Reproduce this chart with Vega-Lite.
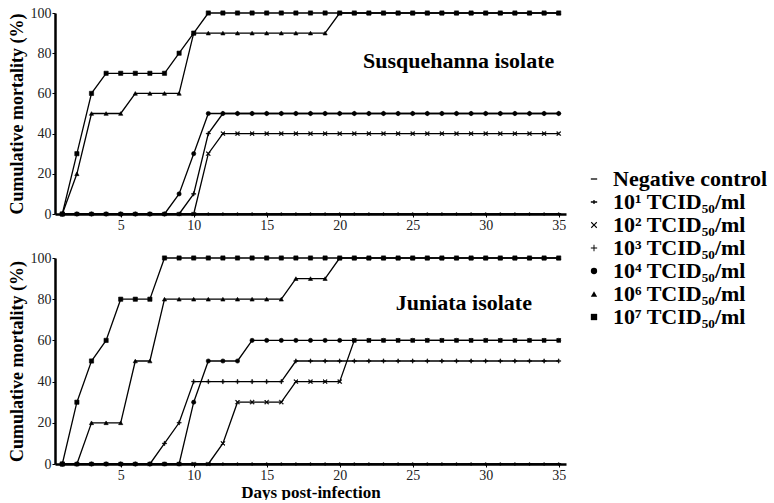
{
  "$schema": "https://vega.github.io/schema/vega-lite/v6.json",
  "background": "white",
  "padding": {"left": 8, "top": 6, "right": 0, "bottom": 0},
  "datasets": {
    "mort": [
      {"iso":"S","day":1,"neg":0,"d1":0,"d2":0,"d3":0,"d4":0,"d6":0,"d7":0},
      {"iso":"S","day":2,"neg":0,"d1":0,"d2":0,"d3":0,"d4":0,"d6":20,"d7":30},
      {"iso":"S","day":3,"neg":0,"d1":0,"d2":0,"d3":0,"d4":0,"d6":50,"d7":60},
      {"iso":"S","day":4,"neg":0,"d1":0,"d2":0,"d3":0,"d4":0,"d6":50,"d7":70},
      {"iso":"S","day":5,"neg":0,"d1":0,"d2":0,"d3":0,"d4":0,"d6":50,"d7":70},
      {"iso":"S","day":6,"neg":0,"d1":0,"d2":0,"d3":0,"d4":0,"d6":60,"d7":70},
      {"iso":"S","day":7,"neg":0,"d1":0,"d2":0,"d3":0,"d4":0,"d6":60,"d7":70},
      {"iso":"S","day":8,"neg":0,"d1":0,"d2":0,"d3":0,"d4":0,"d6":60,"d7":70},
      {"iso":"S","day":9,"neg":0,"d1":0,"d2":0,"d3":0,"d4":10,"d6":60,"d7":80},
      {"iso":"S","day":10,"neg":0,"d1":0,"d2":0,"d3":10,"d4":30,"d6":90,"d7":90},
      {"iso":"S","day":11,"neg":0,"d1":0,"d2":30,"d3":40,"d4":50,"d6":90,"d7":100},
      {"iso":"S","day":12,"neg":0,"d1":0,"d2":40,"d3":50,"d4":50,"d6":90,"d7":100},
      {"iso":"S","day":13,"neg":0,"d1":0,"d2":40,"d3":50,"d4":50,"d6":90,"d7":100},
      {"iso":"S","day":14,"neg":0,"d1":0,"d2":40,"d3":50,"d4":50,"d6":90,"d7":100},
      {"iso":"S","day":15,"neg":0,"d1":0,"d2":40,"d3":50,"d4":50,"d6":90,"d7":100},
      {"iso":"S","day":16,"neg":0,"d1":0,"d2":40,"d3":50,"d4":50,"d6":90,"d7":100},
      {"iso":"S","day":17,"neg":0,"d1":0,"d2":40,"d3":50,"d4":50,"d6":90,"d7":100},
      {"iso":"S","day":18,"neg":0,"d1":0,"d2":40,"d3":50,"d4":50,"d6":90,"d7":100},
      {"iso":"S","day":19,"neg":0,"d1":0,"d2":40,"d3":50,"d4":50,"d6":90,"d7":100},
      {"iso":"S","day":20,"neg":0,"d1":0,"d2":40,"d3":50,"d4":50,"d6":100,"d7":100},
      {"iso":"S","day":21,"neg":0,"d1":0,"d2":40,"d3":50,"d4":50,"d6":100,"d7":100},
      {"iso":"S","day":22,"neg":0,"d1":0,"d2":40,"d3":50,"d4":50,"d6":100,"d7":100},
      {"iso":"S","day":23,"neg":0,"d1":0,"d2":40,"d3":50,"d4":50,"d6":100,"d7":100},
      {"iso":"S","day":24,"neg":0,"d1":0,"d2":40,"d3":50,"d4":50,"d6":100,"d7":100},
      {"iso":"S","day":25,"neg":0,"d1":0,"d2":40,"d3":50,"d4":50,"d6":100,"d7":100},
      {"iso":"S","day":26,"neg":0,"d1":0,"d2":40,"d3":50,"d4":50,"d6":100,"d7":100},
      {"iso":"S","day":27,"neg":0,"d1":0,"d2":40,"d3":50,"d4":50,"d6":100,"d7":100},
      {"iso":"S","day":28,"neg":0,"d1":0,"d2":40,"d3":50,"d4":50,"d6":100,"d7":100},
      {"iso":"S","day":29,"neg":0,"d1":0,"d2":40,"d3":50,"d4":50,"d6":100,"d7":100},
      {"iso":"S","day":30,"neg":0,"d1":0,"d2":40,"d3":50,"d4":50,"d6":100,"d7":100},
      {"iso":"S","day":31,"neg":0,"d1":0,"d2":40,"d3":50,"d4":50,"d6":100,"d7":100},
      {"iso":"S","day":32,"neg":0,"d1":0,"d2":40,"d3":50,"d4":50,"d6":100,"d7":100},
      {"iso":"S","day":33,"neg":0,"d1":0,"d2":40,"d3":50,"d4":50,"d6":100,"d7":100},
      {"iso":"S","day":34,"neg":0,"d1":0,"d2":40,"d3":50,"d4":50,"d6":100,"d7":100},
      {"iso":"S","day":35,"neg":0,"d1":0,"d2":40,"d3":50,"d4":50,"d6":100,"d7":100},
      {"iso":"J","day":1,"neg":0,"d1":0,"d2":0,"d3":0,"d4":0,"d6":0,"d7":0},
      {"iso":"J","day":2,"neg":0,"d1":0,"d2":0,"d3":0,"d4":0,"d6":0,"d7":30},
      {"iso":"J","day":3,"neg":0,"d1":0,"d2":0,"d3":0,"d4":0,"d6":20,"d7":50},
      {"iso":"J","day":4,"neg":0,"d1":0,"d2":0,"d3":0,"d4":0,"d6":20,"d7":60},
      {"iso":"J","day":5,"neg":0,"d1":0,"d2":0,"d3":0,"d4":0,"d6":20,"d7":80},
      {"iso":"J","day":6,"neg":0,"d1":0,"d2":0,"d3":0,"d4":0,"d6":50,"d7":80},
      {"iso":"J","day":7,"neg":0,"d1":0,"d2":0,"d3":0,"d4":0,"d6":50,"d7":80},
      {"iso":"J","day":8,"neg":0,"d1":0,"d2":0,"d3":10,"d4":0,"d6":80,"d7":100},
      {"iso":"J","day":9,"neg":0,"d1":0,"d2":0,"d3":20,"d4":0,"d6":80,"d7":100},
      {"iso":"J","day":10,"neg":0,"d1":0,"d2":0,"d3":40,"d4":30,"d6":80,"d7":100},
      {"iso":"J","day":11,"neg":0,"d1":0,"d2":0,"d3":40,"d4":50,"d6":80,"d7":100},
      {"iso":"J","day":12,"neg":0,"d1":0,"d2":10,"d3":40,"d4":50,"d6":80,"d7":100},
      {"iso":"J","day":13,"neg":0,"d1":0,"d2":30,"d3":40,"d4":50,"d6":80,"d7":100},
      {"iso":"J","day":14,"neg":0,"d1":0,"d2":30,"d3":40,"d4":60,"d6":80,"d7":100},
      {"iso":"J","day":15,"neg":0,"d1":0,"d2":30,"d3":40,"d4":60,"d6":80,"d7":100},
      {"iso":"J","day":16,"neg":0,"d1":0,"d2":30,"d3":40,"d4":60,"d6":80,"d7":100},
      {"iso":"J","day":17,"neg":0,"d1":0,"d2":40,"d3":50,"d4":60,"d6":90,"d7":100},
      {"iso":"J","day":18,"neg":0,"d1":0,"d2":40,"d3":50,"d4":60,"d6":90,"d7":100},
      {"iso":"J","day":19,"neg":0,"d1":0,"d2":40,"d3":50,"d4":60,"d6":90,"d7":100},
      {"iso":"J","day":20,"neg":0,"d1":0,"d2":40,"d3":50,"d4":60,"d6":100,"d7":100},
      {"iso":"J","day":21,"neg":0,"d1":0,"d2":60,"d3":50,"d4":60,"d6":100,"d7":100},
      {"iso":"J","day":22,"neg":0,"d1":0,"d2":60,"d3":50,"d4":60,"d6":100,"d7":100},
      {"iso":"J","day":23,"neg":0,"d1":0,"d2":60,"d3":50,"d4":60,"d6":100,"d7":100},
      {"iso":"J","day":24,"neg":0,"d1":0,"d2":60,"d3":50,"d4":60,"d6":100,"d7":100},
      {"iso":"J","day":25,"neg":0,"d1":0,"d2":60,"d3":50,"d4":60,"d6":100,"d7":100},
      {"iso":"J","day":26,"neg":0,"d1":0,"d2":60,"d3":50,"d4":60,"d6":100,"d7":100},
      {"iso":"J","day":27,"neg":0,"d1":0,"d2":60,"d3":50,"d4":60,"d6":100,"d7":100},
      {"iso":"J","day":28,"neg":0,"d1":0,"d2":60,"d3":50,"d4":60,"d6":100,"d7":100},
      {"iso":"J","day":29,"neg":0,"d1":0,"d2":60,"d3":50,"d4":60,"d6":100,"d7":100},
      {"iso":"J","day":30,"neg":0,"d1":0,"d2":60,"d3":50,"d4":60,"d6":100,"d7":100},
      {"iso":"J","day":31,"neg":0,"d1":0,"d2":60,"d3":50,"d4":60,"d6":100,"d7":100},
      {"iso":"J","day":32,"neg":0,"d1":0,"d2":60,"d3":50,"d4":60,"d6":100,"d7":100},
      {"iso":"J","day":33,"neg":0,"d1":0,"d2":60,"d3":50,"d4":60,"d6":100,"d7":100},
      {"iso":"J","day":34,"neg":0,"d1":0,"d2":60,"d3":50,"d4":60,"d6":100,"d7":100},
      {"iso":"J","day":35,"neg":0,"d1":0,"d2":60,"d3":50,"d4":60,"d6":100,"d7":100}
    ]
  },
  "config": {
    "view": {"stroke": null},
    "axis": {
      "grid": false,
      "domainColor": "black",
      "domainWidth": 2.5,
      "tickColor": "black",
      "tickWidth": 1,
      "tickSize": 3,
      "labelOverlap": false,
      "labelFont": "Liberation Serif",
      "labelFontSize": 14,
      "labelColor": "#222",
      "titleFont": "Liberation Serif",
      "titleFontSize": 18,
      "titleFontWeight": "bold",
      "titleColor": "black"
    },
    "axisX": {"labelOverlap": false, "labelFlush": false}
  },
  "spacing": 19,
  "vconcat": [
    {
      "width": 511,
      "height": 201,
      "layer": [
        {
          "data": {"name": "mort"},
          "transform": [
            {"filter": "datum.iso === 'S'"},
            {"fold": ["neg","d1","d2","d3","d4","d6","d7"], "as": ["series","mortality"]}
          ],
          "mark": {"type": "line", "color": "black", "strokeWidth": 1.3},
          "encoding": {
            "x": {"field": "day", "type": "quantitative", "scale": {"domain": [0.5, 35.5], "nice": false, "zero": false},
              "axis": {"title": null, "values": [5,10,15,20,25,30,35], "labelOverlap": false, "labelFlush": false, "labelPadding": 1}},
            "y": {"field": "mortality", "type": "quantitative", "scale": {"domain": [0, 100], "nice": false},
              "axis": {"title": "Cumulative mortality (%)", "values": [0,10,20,30,40,50,60,70,80,90,100], "labelExpr": "datum.value % 20 === 0 ? datum.label : ''", "labelOverlap": false, "labelPadding": 1, "titlePadding": 4}},
            "detail": {"field": "series"}
          }
        },
        {
          "data": {"name": "mort"},
          "transform": [
            {"filter": "datum.iso === 'S'"},
            {"fold": ["neg","d1","d2","d3","d4","d6","d7"], "as": ["series","mortality"]}
          ],
          "mark": {"type": "point", "filled": true, "color": "black", "stroke": "black", "strokeWidth": 0.6, "size": 18, "opacity": 1},
          "encoding": {
            "x": {"field": "day", "type": "quantitative"},
            "y": {"field": "mortality", "type": "quantitative"},
            "shape": {"field": "series", "type": "nominal",
              "scale": {"domain": ["neg","d1","d2","d3","d4","d6","d7"], "range": [
                "M-1,-0.2H1V0.2H-1Z",
                "M-1,-0.2H-0.2V-0.6H0.2V-0.2H1V0.2H0.2V0.6H-0.2V0.2H-1Z",
                "M-1,-0.75L-0.75,-1L0,-0.25L0.75,-1L1,-0.75L0.25,0L1,0.75L0.75,1L0,0.25L-0.75,1L-1,0.75L-0.25,0Z",
                "M-1,-0.15H-0.15V-1H0.15V-0.15H1V0.15H0.15V1H-0.15V0.15H-1Z",
                "circle", "triangle-up", "square"]},
              "legend": {"orient": "none", "legendX": 528, "legendY": 155, "title": null,
                "labelFont": "Liberation Serif", "labelFontSize": 22, "labelFontWeight": "bold", "labelColor": "black",
                "symbolSize": 40, "symbolStrokeColor": "black", "symbolFillColor": "black", "symbolStrokeWidth": 0.6,
                "rowPadding": 1, "labelOffset": 8,
                "labelExpr": "datum.label === 'neg' ? 'Negative control' : datum.label === 'd1' ? '10¹ TCID₅₀/ml' : datum.label === 'd2' ? '10² TCID₅₀/ml' : datum.label === 'd3' ? '10³ TCID₅₀/ml' : datum.label === 'd4' ? '10⁴ TCID₅₀/ml' : datum.label === 'd6' ? '10⁶ TCID₅₀/ml' : '10⁷ TCID₅₀/ml'"}}
          }
        },
        {
          "data": {"values": [{"label": "Susquehanna isolate"}]},
          "mark": {"type": "text", "font": "Liberation Serif", "fontSize": 22, "fontWeight": "bold", "align": "right", "baseline": "middle", "color": "black"},
          "encoding": {
            "x": {"datum": 34.7, "type": "quantitative"},
            "y": {"datum": 76, "type": "quantitative"},
            "text": {"field": "label"}
          }
        }
      ]
    },
    {
      "width": 511,
      "height": 206,
      "layer": [
        {
          "data": {"name": "mort"},
          "transform": [
            {"filter": "datum.iso === 'J'"},
            {"fold": ["neg","d1","d2","d3","d4","d6","d7"], "as": ["series","mortality"]}
          ],
          "mark": {"type": "line", "color": "black", "strokeWidth": 1.3},
          "encoding": {
            "x": {"field": "day", "type": "quantitative", "scale": {"domain": [0.5, 35.5], "nice": false, "zero": false},
              "axis": {"title": "Days post-infection", "titleFontSize": 17, "titlePadding": 2, "values": [5,10,15,20,25,30,35], "labelOverlap": false, "labelFlush": false, "labelPadding": 1}},
            "y": {"field": "mortality", "type": "quantitative", "scale": {"domain": [0, 100], "nice": false},
              "axis": {"title": "Cumulative mortality (%)", "values": [0,10,20,30,40,50,60,70,80,90,100], "labelExpr": "datum.value % 20 === 0 ? datum.label : ''", "labelOverlap": false, "labelPadding": 1, "titlePadding": 4}},
            "detail": {"field": "series"}
          }
        },
        {
          "data": {"name": "mort"},
          "transform": [
            {"filter": "datum.iso === 'J'"},
            {"fold": ["neg","d1","d2","d3","d4","d6","d7"], "as": ["series","mortality"]}
          ],
          "mark": {"type": "point", "filled": true, "color": "black", "stroke": "black", "strokeWidth": 0.6, "size": 18, "opacity": 1},
          "encoding": {
            "x": {"field": "day", "type": "quantitative"},
            "y": {"field": "mortality", "type": "quantitative"},
            "shape": {"field": "series", "type": "nominal"}
          }
        },
        {
          "data": {"values": [{"label": "Juniata isolate"}]},
          "mark": {"type": "text", "font": "Liberation Serif", "fontSize": 22, "fontWeight": "bold", "align": "center", "baseline": "middle", "color": "black"},
          "encoding": {
            "x": {"datum": 28.5, "type": "quantitative"},
            "y": {"datum": 78, "type": "quantitative"},
            "text": {"field": "label"}
          }
        }
      ]
    }
  ]
}
